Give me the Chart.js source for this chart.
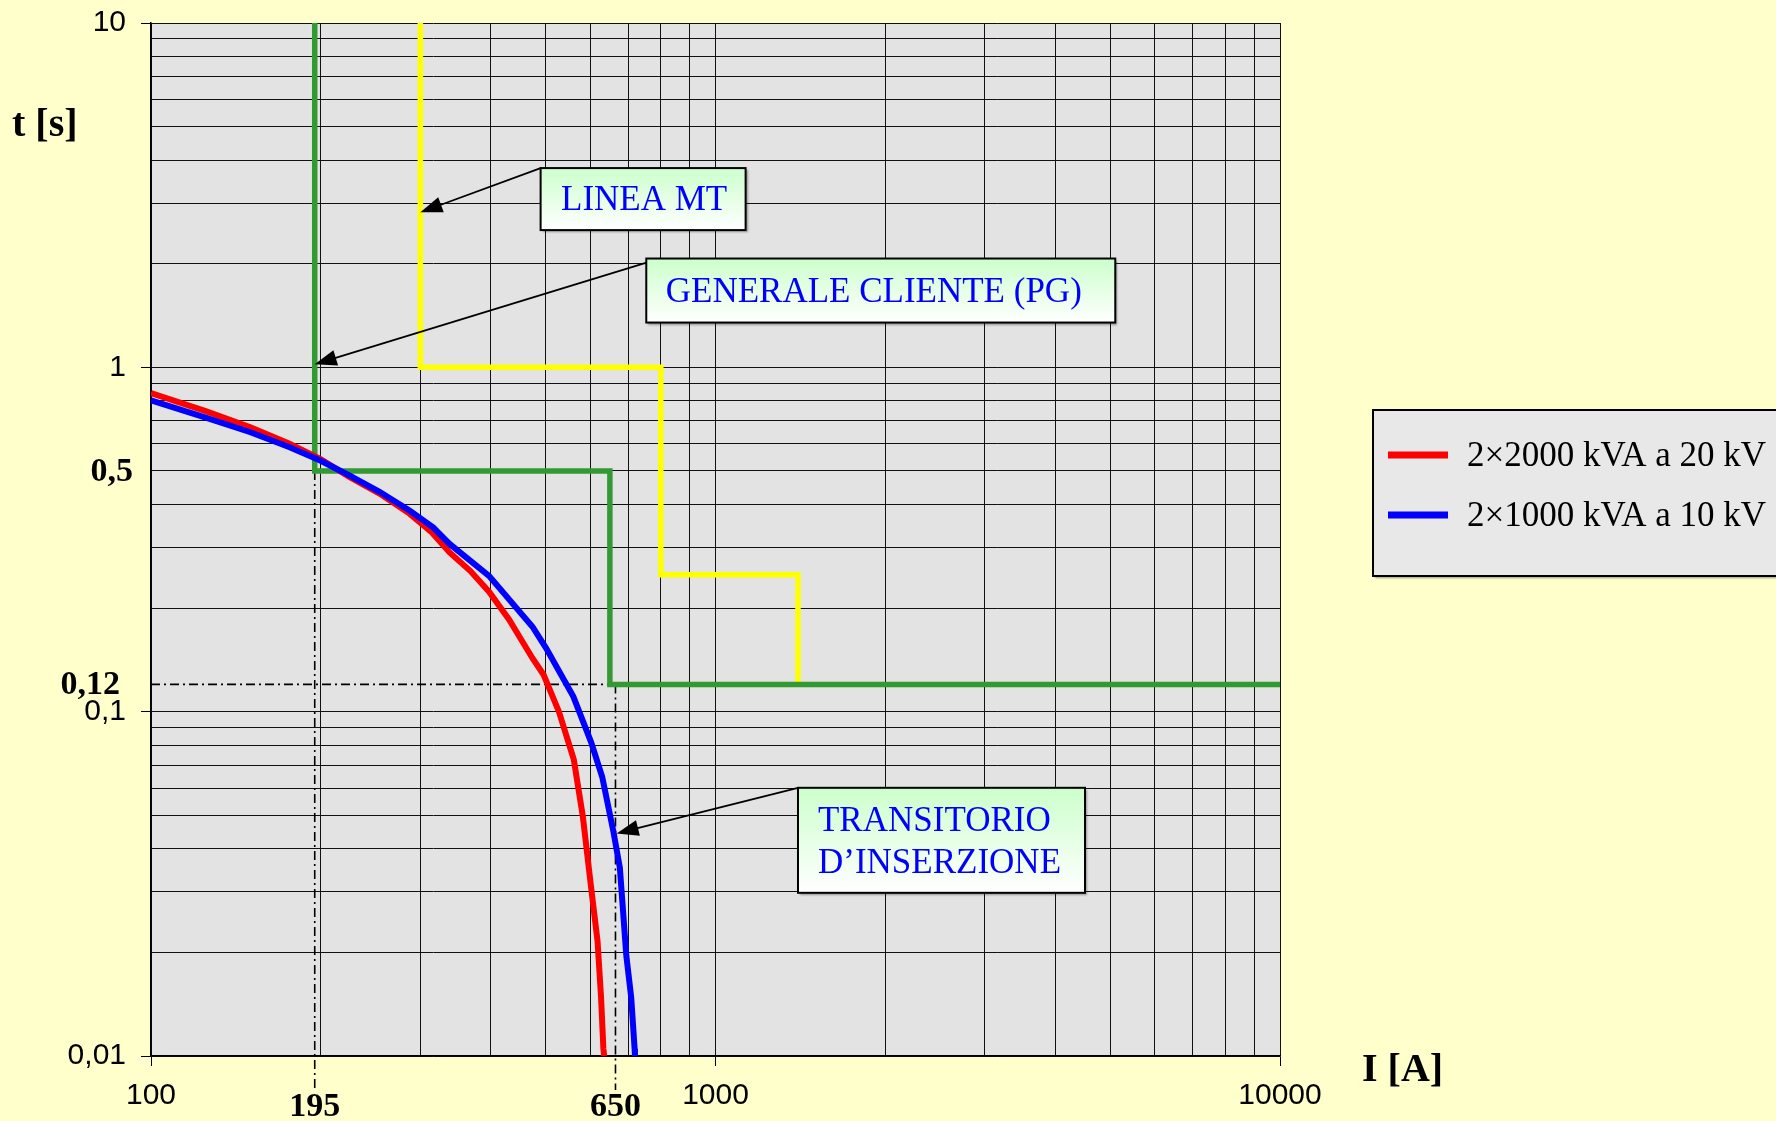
<!DOCTYPE html>
<html>
<head>
<meta charset="utf-8">
<script src="https://cdn.jsdelivr.net/npm/chart.js@4.4.1/dist/chart.umd.min.js"></script>
<style>
  html, body { margin: 0; padding: 0; background: #ffffcc; }
  canvas { display: block; }
</style>
</head>
<body>
<canvas id="inrushChart" width="1776" height="1121"></canvas>
<script>
// inrush curves (I [A], t [s])
const red2000I = [100, 125, 150, 176, 199, 225, 254, 287, 313, 338, 368, 397, 431, 474, 496, 528, 561, 582, 601, 618, 627, 633, 635];
const red2000T = [0.842, 0.746, 0.67, 0.6, 0.543, 0.48, 0.43, 0.376, 0.334, 0.29, 0.256, 0.223, 0.185, 0.143, 0.128, 0.1, 0.0726, 0.0497, 0.0316, 0.0216, 0.0148, 0.0105, 0.01];
const blue1000I = [100, 125, 150, 176, 199, 225, 254, 287, 316, 338, 397, 474, 501, 560, 602, 630, 660, 677, 695, 709, 719, 720];
const blue1000T = [0.802, 0.714, 0.648, 0.586, 0.537, 0.485, 0.435, 0.384, 0.343, 0.307, 0.248, 0.1765, 0.153, 0.1106, 0.0816, 0.0646, 0.0445, 0.0352, 0.0196, 0.0148, 0.0105, 0.01];

// protection thresholds
const pgI = [195, 195, 650, 650, 10000];
const pgT = [10, 0.5, 0.5, 0.12, 0.12];
const lineaI = [300, 300, 800, 800, 1400, 1400];
const lineaT = [10, 1, 1, 0.25, 0.25, 0.12];

// log grid
const mantissas = [1, 2, 3, 4, 5, 6, 7, 8, 9];
const xDecades = [100, 1000];
const yDecades = [0.01, 0.1, 1];
const xMajorLabels = { '100': '100', '1000': '1000', '10000': '10000' };
const yMajorLabels = { '0.01': '0,01', '0.1': '0,1', '1': '1', '10': '10' };

// dash-dot reference lines
const markI = [195, 665];
const markILabels = ['195', '650'];
const markT = [0.5, 0.12];
const markTLabels = ['0,5', '0,12'];

const legendNames = ['2\u00d72000 kVA a 20 kV', '2\u00d71000 kVA a 10 kV'];

function gridValues(decades, last) {
    const vals = [];
    decades.forEach(function (d) {
        mantissas.forEach(function (m) {
            vals.push(Number((m * d).toPrecision(6)));
        });
    });
    vals.push(last);
    return vals;
}

const xTicks = gridValues(xDecades, 10000);
const yTicks = gridValues(yDecades, 10);

function points(xs, ys) {
    return xs.map(function (x, i) { return { x: x, y: ys[i] }; });
}

// callouts: arrow tail/tip and box corner in data space
const callouts = [
    { lines: ['LINEA MT'], corner: [490, 3.79], tail: [490, 3.79], tip: [300, 2.82], w: 205, h: 62, align: 'center', dx: 1 },
    { lines: ['GENERALE CLIENTE (PG)'], corner: [754, 2.07], tail: [796, 2.07], tip: [195, 1.02], w: 469, h: 64, align: 'center', dx: -7 },
    { lines: ['TRANSITORIO', 'D\u2019INSERZIONE'], corner: [1400, 0.0601], tail: [1400, 0.0601], tip: [668, 0.0443], w: 287, h: 105, align: 'left', dx: 20 },
];

const serif = '"Liberation Serif", "Times New Roman", serif';

function drawArrow(ctx, x0, y0, x1, y1) {
    const a = Math.atan2(y1 - y0, x1 - x0);
    const len = 22, half = 8;
    ctx.save();
    ctx.strokeStyle = '#000';
    ctx.fillStyle = '#000';
    ctx.lineWidth = 1.8;
    ctx.beginPath();
    ctx.moveTo(x0, y0);
    ctx.lineTo(x1 - Math.cos(a) * len * 0.8, y1 - Math.sin(a) * len * 0.8);
    ctx.stroke();
    ctx.beginPath();
    ctx.moveTo(x1, y1);
    ctx.lineTo(x1 - Math.cos(a) * len - Math.sin(a) * half, y1 - Math.sin(a) * len + Math.cos(a) * half);
    ctx.lineTo(x1 - Math.cos(a) * len + Math.sin(a) * half, y1 - Math.sin(a) * len - Math.cos(a) * half);
    ctx.closePath();
    ctx.fill();
    ctx.restore();
}

const decorPlugin = {
    id: 'decor',
    beforeDraw: function (chart) {
        const ctx = chart.ctx;
        const area = chart.chartArea;
        ctx.save();
        ctx.fillStyle = '#ffffcc';
        ctx.fillRect(0, 0, chart.width, chart.height);
        ctx.fillStyle = '#e3e3e3';
        ctx.fillRect(area.left, area.top, area.right - area.left, area.bottom - area.top);
        ctx.restore();
    },
    beforeDatasetsDraw: function (chart) {
        const ctx = chart.ctx;
        const xs = chart.scales.x;
        const ys = chart.scales.y;
        const area = chart.chartArea;
        const x195 = xs.getPixelForValue(markI[0]);
        const x650 = xs.getPixelForValue(markI[1]);
        const y05 = ys.getPixelForValue(markT[0]);
        const y012 = ys.getPixelForValue(markT[1]);
        ctx.save();
        ctx.strokeStyle = '#000';
        ctx.lineWidth = 1.6;
        ctx.setLineDash([9, 4, 2, 4]);
        ctx.beginPath();
        ctx.moveTo(x195, y05);
        ctx.lineTo(x195, area.bottom + 34);
        ctx.moveTo(x650, y012);
        ctx.lineTo(x650, area.bottom + 34);
        ctx.moveTo(area.left, y012);
        ctx.lineTo(x650, y012);
        ctx.stroke();
        ctx.restore();
    },
    afterDraw: function (chart) {
        const ctx = chart.ctx;
        const xs = chart.scales.x;
        const ys = chart.scales.y;
        const area = chart.chartArea;
        ctx.save();

        // axis titles
        ctx.fillStyle = '#000';
        ctx.font = 'bold 40px ' + serif;
        ctx.textAlign = 'left';
        ctx.textBaseline = 'alphabetic';
        ctx.fillText('t [s]', 12, 136);
        ctx.fillText('I [A]', 1362, 1081);

        // bold reference values
        ctx.font = 'bold 34px ' + serif;
        ctx.textBaseline = 'middle';
        ctx.textAlign = 'right';
        ctx.fillText(markTLabels[0], 133, ys.getPixelForValue(markT[0]) + 1);
        ctx.fillText(markTLabels[1], 120, ys.getPixelForValue(markT[1]) + 1);
        ctx.textAlign = 'center';
        markI.forEach(function (v, i) {
            ctx.fillText(markILabels[i], xs.getPixelForValue(v), area.bottom + 51);
        });

        // callouts
        callouts.forEach(function (c) {
            const tx = xs.getPixelForValue(c.tail[0]);
            const ty = ys.getPixelForValue(c.tail[1]);
            drawArrow(ctx, tx, ty, xs.getPixelForValue(c.tip[0]), ys.getPixelForValue(c.tip[1]));
            const bx = xs.getPixelForValue(c.corner[0]);
            const by = ys.getPixelForValue(c.corner[1]);
            const grad = ctx.createLinearGradient(0, by, 0, by + c.h);
            grad.addColorStop(0, '#ccffcc');
            grad.addColorStop(1, '#ffffff');
            ctx.save();
            ctx.shadowColor = 'rgba(0,0,0,0.35)';
            ctx.shadowOffsetX = 2;
            ctx.shadowOffsetY = 2;
            ctx.shadowBlur = 2;
            ctx.fillStyle = grad;
            ctx.fillRect(bx, by, c.w, c.h);
            ctx.restore();
            ctx.strokeStyle = '#000';
            ctx.lineWidth = 2;
            ctx.strokeRect(bx, by, c.w, c.h);
            ctx.fillStyle = '#0000ff';
            ctx.font = '35px ' + serif;
            ctx.textBaseline = 'middle';
            if (c.align === 'center') {
                ctx.textAlign = 'center';
                ctx.fillText(c.lines[0], bx + c.w / 2 + c.dx, by + c.h / 2 + 2);
            } else {
                ctx.textAlign = 'left';
                c.lines.forEach(function (t, i) {
                    ctx.fillText(t, bx + c.dx, by + 34 + i * 42);
                });
            }
        });

        // legend
        ctx.save();
        ctx.shadowColor = 'rgba(0,0,0,0.4)';
        ctx.shadowOffsetX = 2;
        ctx.shadowOffsetY = 2;
        ctx.shadowBlur = 2;
        ctx.fillStyle = '#e8e8e8';
        ctx.fillRect(1373, 410, 420, 166);
        ctx.restore();
        ctx.strokeStyle = '#000';
        ctx.lineWidth = 2;
        ctx.strokeRect(1373, 410, 420, 166);
        const legendColors = [chart.data.datasets[1].borderColor, chart.data.datasets[0].borderColor];
        legendNames.forEach(function (name, i) {
            const y = 455 + i * 60;
            ctx.strokeStyle = legendColors[i];
            ctx.lineWidth = 7;
            ctx.beginPath();
            ctx.moveTo(1388, y);
            ctx.lineTo(1448, y);
            ctx.stroke();
            ctx.fillStyle = '#000';
            ctx.font = '35px ' + serif;
            ctx.textAlign = 'left';
            ctx.textBaseline = 'middle';
            ctx.fillText(name, 1467, y + 2);
        });
        ctx.restore();
    },
};

new Chart(document.getElementById('inrushChart'), {
    type: 'line',
    data: {
        datasets: [
            {
                label: legendNames[1],
                data: points(blue1000I, blue1000T),
                borderColor: '#0000ff',
                borderWidth: 6,
                order: 0,
            },
            {
                label: legendNames[0],
                data: points(red2000I, red2000T),
                borderColor: '#ff0000',
                borderWidth: 6,
                order: 1,
            },
            {
                label: 'GENERALE CLIENTE (PG)',
                data: points(pgI, pgT),
                borderColor: '#339933',
                borderWidth: 5.5,
                order: 2,
            },
            {
                label: 'LINEA MT',
                data: points(lineaI, lineaT),
                borderColor: '#ffff00',
                borderWidth: 5.5,
                order: 3,
            },
        ],
    },
    options: {
        responsive: false,
        animation: false,
        devicePixelRatio: 1,
        layout: {
            padding: { top: 23, right: 496, left: 0, bottom: 0 },
        },
        elements: {
            point: { radius: 0, hoverRadius: 0 },
            line: { tension: 0, borderJoinStyle: 'miter', borderCapStyle: 'butt' },
        },
        plugins: {
            legend: { display: false },
            tooltip: { enabled: false },
        },
        scales: {
            x: {
                type: 'logarithmic',
                min: 100,
                max: 10000,
                afterBuildTicks: function (scale) {
                    scale.ticks = xTicks.map(function (v) { return { value: v }; });
                },
                afterFit: function (scale) {
                    scale.height = 65;
                    scale.paddingLeft = 0;
                    scale.paddingRight = 0;
                },
                grid: {
                    color: '#111',
                    lineWidth: 1,
                    tickLength: 10,
                    tickColor: function (ctx) {
                        return ctx.tick && xMajorLabels[String(ctx.tick.value)] ? '#000' : 'rgba(0,0,0,0)';
                    },
                },
                border: { color: '#000', width: 1.5 },
                ticks: {
                    autoSkip: false,
                    maxRotation: 0,
                    minRotation: 0,
                    padding: 12,
                    color: '#000',
                    font: { family: '"Liberation Sans", Arial, sans-serif', size: 30 },
                    callback: function (value) {
                        return xMajorLabels[String(value)] || '';
                    },
                },
            },
            y: {
                type: 'logarithmic',
                min: 0.01,
                max: 10,
                afterBuildTicks: function (scale) {
                    scale.ticks = yTicks.map(function (v) { return { value: v }; });
                },
                afterFit: function (scale) {
                    scale.width = 151;
                    scale.paddingTop = 0;
                    scale.paddingBottom = 0;
                },
                grid: {
                    color: '#111',
                    lineWidth: 1,
                    tickLength: 10,
                    tickColor: function (ctx) {
                        return ctx.tick && yMajorLabels[String(ctx.tick.value)] ? '#000' : 'rgba(0,0,0,0)';
                    },
                },
                border: { color: '#000', width: 1.5 },
                ticks: {
                    autoSkip: false,
                    padding: 15,
                    color: '#000',
                    font: { family: '"Liberation Sans", Arial, sans-serif', size: 30 },
                    callback: function (value) {
                        return yMajorLabels[String(value)] || '';
                    },
                },
            },
        },
    },
    plugins: [decorPlugin],
});
</script>
</body>
</html>
